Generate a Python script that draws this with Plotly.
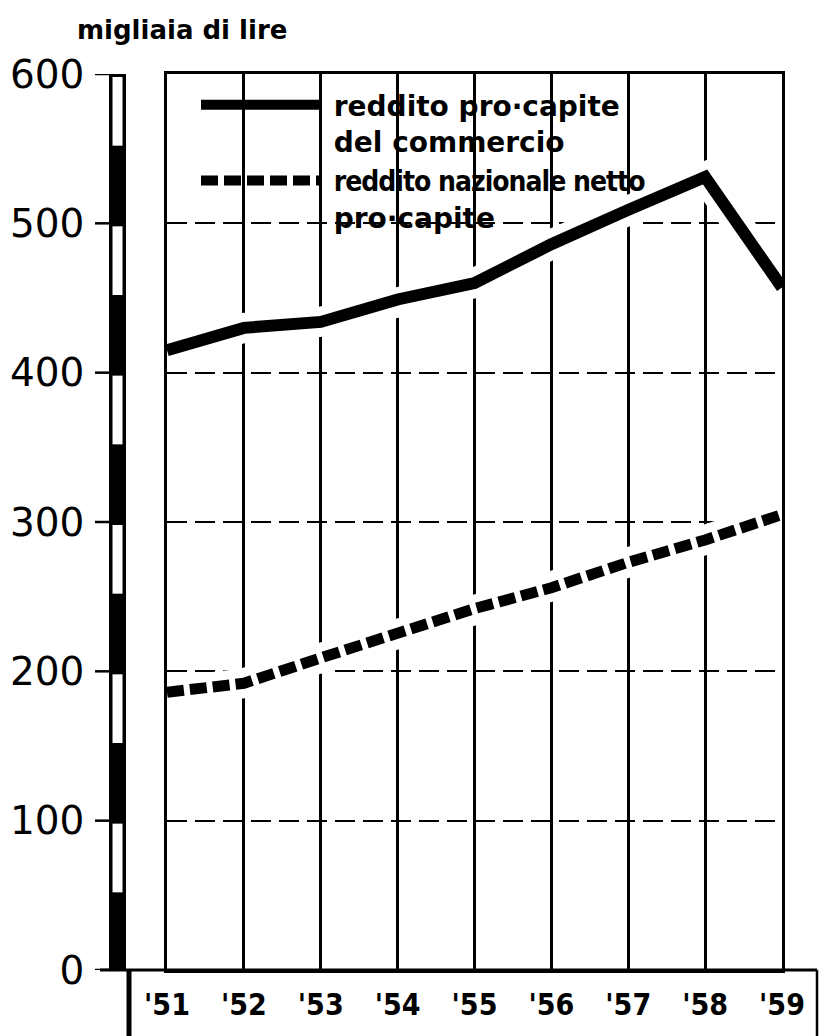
import plotly.graph_objects as go

years = ["'51", "'52", "'53", "'54", "'55", "'56", "'57", "'58", "'59"]
commercio = [415, 430, 434, 449, 460, 486, 509, 531, 457]
nazionale = [186, 192, 209, 226, 242, 256, 273, 288, 305]
yticks = [0, 100, 200, 300, 400, 500, 600]

name_comm = "&nbsp;reddito pro·capite<br>&nbsp;del commercio"
name_naz = ("&nbsp;<span style=\"font-family:'DejaVu Sans Condensed';letter-spacing:-1px\">"
            "reddito nazionale netto</span><br>&nbsp;pro·capite")
y_title = "migliaia di lire"

W, H = 823, 1036
L, R, T, B = 167, 41, 74, 66
PW = W - L - R
PH = H - T - B


def px(xpix):
    return (xpix - L) / PW


def py(ypix):
    return (H - B - ypix) / PH


fig = go.Figure()

# white halos under the lines
fig.add_trace(go.Scatter(x=years, y=nazionale, mode="lines", showlegend=False,
                         hoverinfo="skip", line=dict(color="white", width=30)))
fig.add_trace(go.Scatter(x=years, y=nazionale, mode="lines", name=name_naz,
                         line=dict(color="black", width=11, dash="17px,6px")))
fig.add_trace(go.Scatter(x=years, y=commercio, mode="lines", showlegend=False,
                         hoverinfo="skip", line=dict(color="white", width=30)))
fig.add_trace(go.Scatter(x=years, y=commercio, mode="lines", name=name_comm,
                         line=dict(color="black", width=12)))

shapes = []
# white masks behind the legend text (cover gridlines, not traces)
shapes.append(dict(type="rect", xref="paper", yref="paper", x0=px(190), x1=px(620),
                   y0=py(202), y1=py(80), fillcolor="white", line=dict(width=0),
                   layer="between"))
shapes.append(dict(type="rect", xref="paper", yref="paper", x0=px(326), x1=px(500),
                   y0=py(236), y1=py(200), fillcolor="white", line=dict(width=0),
                   layer="between"))
# ruler at left
shapes.append(dict(type="rect", xref="paper", yref="y", x0=px(109), x1=px(126), y0=0, y1=600,
                   fillcolor="black", line=dict(width=0), layer="above"))
for v in yticks[:-1]:
    shapes.append(dict(type="rect", xref="paper", yref="y", x0=px(112.5), x1=px(122.5),
                       y0=v + 52, y1=v + 98, fillcolor="white", line=dict(width=0),
                       layer="above"))
# ruler tick marks
for v in yticks:
    shapes.append(dict(type="line", xref="paper", yref="y", x0=px(95), x1=px(111),
                       y0=v, y1=v, line=dict(color="black", width=2.5), layer="above"))
# base line and label box
shapes.append(dict(type="line", xref="paper", yref="paper", x0=px(100), x1=px(817),
                   y0=0, y1=0, line=dict(color="black", width=3), layer="above"))
shapes.append(dict(type="line", xref="paper", yref="paper", x0=px(129), x1=px(129),
                   y0=0, y1=py(1036), line=dict(color="black", width=5), layer="above"))
shapes.append(dict(type="line", xref="paper", yref="paper", x0=px(817), x1=px(817),
                   y0=0, y1=py(1036), line=dict(color="black", width=2.5), layer="above"))

fig.update_layout(
    width=W, height=H,
    margin=dict(l=L, r=R, t=T, b=B, pad=0, autoexpand=False),
    paper_bgcolor="white", plot_bgcolor="white",
    shapes=shapes,
    showlegend=True,
    legend=dict(
        x=px(196), y=py(80), xanchor="left", yanchor="top",
        bgcolor="rgba(0,0,0,0)", borderwidth=0,
        font=dict(family="DejaVu Sans", size=28, color="black", weight="bold"),
        itemwidth=118, valign="top", traceorder="reversed",
        tracegroupgap=0,
    ),
    annotations=[dict(text=y_title, xref="paper", yref="paper", x=px(75), y=py(30),
                      xanchor="left", yanchor="middle", showarrow=False,
                      font=dict(family="DejaVu Sans", size=26, color="black",
                                weight="bold"))],
    xaxis=dict(
        type="category", range=[0, len(years) - 1], automargin=False,
        showgrid=True, gridcolor="black", gridwidth=2.5,
        showline=True, linecolor="black", linewidth=2.5, mirror=True,
        ticks="", ticklabelstandoff=6,
        tickfont=dict(family="Liberation Sans Narrow, DejaVu Sans Condensed", size=30,
                      color="black", weight="bold"),
        fixedrange=True,
    ),
    yaxis=dict(
        range=[0, 600], tickvals=yticks, automargin=False,
        showgrid=True, gridcolor="black", gridwidth=1.5, griddash="20px,8px",
        showline=True, linecolor="black", linewidth=2.5, mirror=True,
        zeroline=False, ticks="", ticklabelstandoff=72,
        tickfont=dict(family="DejaVu Sans", size=39, color="black"),
        fixedrange=True,
    ),
)

fig.write_html("out.html", config={"displayModeBar": False},
               post_script="document.body.style.margin='0';")
